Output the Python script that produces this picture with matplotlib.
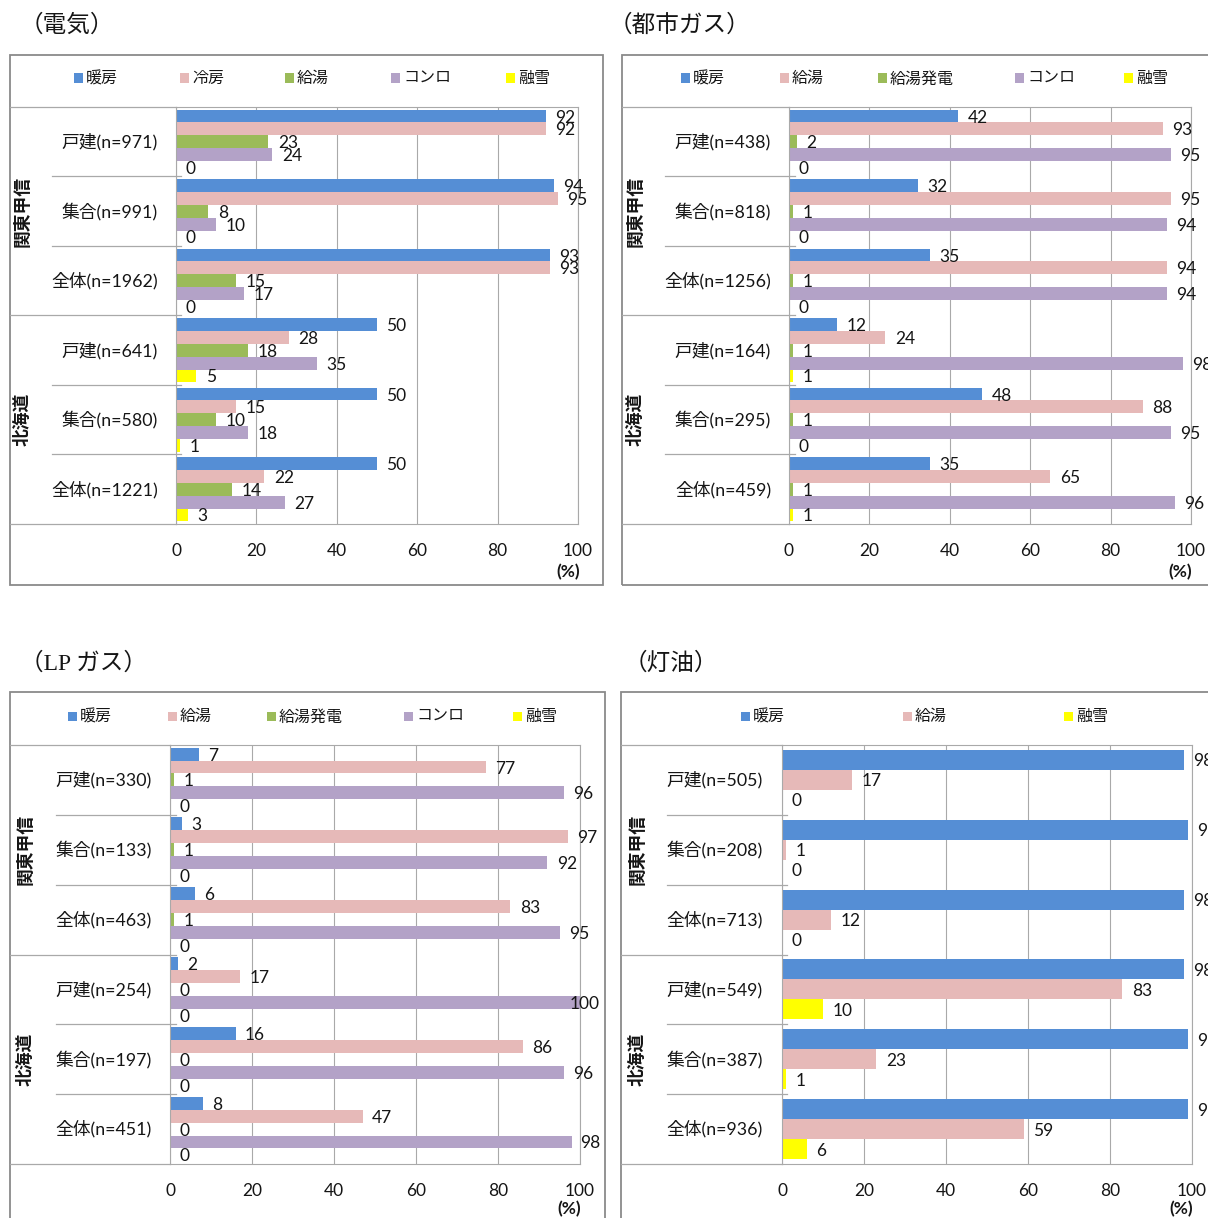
import matplotlib
matplotlib.use("Agg")
import matplotlib.pyplot as plt
import matplotlib.transforms as mtransforms
from matplotlib.patches import Rectangle
from matplotlib.lines import Line2D

plt.rcParams["font.family"] = ["Lato", "Noto Sans CJK JP"]

# ---------------- data ----------------
regions = ["関東甲信", "北海道"]

# electricity
elec_cats = ["戸建(n=971)", "集合(n=991)", "全体(n=1962)",
             "戸建(n=641)", "集合(n=580)", "全体(n=1221)"]
elec_series = ["暖房", "冷房", "給湯", "コンロ", "融雪"]
elec_heating = [92, 94, 93, 50, 50, 50]
elec_cooling = [92, 95, 93, 28, 15, 22]
elec_hotwater = [23, 8, 15, 18, 10, 14]
elec_stove = [24, 10, 17, 35, 18, 27]
elec_snow = [0, 0, 0, 5, 1, 3]

# city gas
gas_cats = ["戸建(n=438)", "集合(n=818)", "全体(n=1256)",
            "戸建(n=164)", "集合(n=295)", "全体(n=459)"]
gas_series = ["暖房", "給湯", "給湯発電", "コンロ", "融雪"]
gas_heating = [42, 32, 35, 12, 48, 35]
gas_hotwater = [93, 95, 94, 24, 88, 65]
gas_cogen = [2, 1, 1, 1, 1, 1]
gas_stove = [95, 94, 94, 98, 95, 96]
gas_snow = [0, 0, 0, 1, 0, 1]

# LP gas
lp_cats = ["戸建(n=330)", "集合(n=133)", "全体(n=463)",
           "戸建(n=254)", "集合(n=197)", "全体(n=451)"]
lp_series = ["暖房", "給湯", "給湯発電", "コンロ", "融雪"]
lp_heating = [7, 3, 6, 2, 16, 8]
lp_hotwater = [77, 97, 83, 17, 86, 47]
lp_cogen = [1, 1, 1, 0, 0, 0]
lp_stove = [96, 92, 95, 100, 96, 98]
lp_snow = [0, 0, 0, 0, 0, 0]

# kerosene
ker_cats = ["戸建(n=505)", "集合(n=208)", "全体(n=713)",
            "戸建(n=549)", "集合(n=387)", "全体(n=936)"]
ker_series = ["暖房", "給湯", "融雪"]
ker_heating = [98, 99, 98, 98, 99, 99]
ker_hotwater = [17, 1, 12, 83, 23, 59]
ker_snow = [0, 0, 0, 10, 1, 6]

x_ticks = [0, 20, 40, 60, 80, 100]

# ---------------- style ----------------
BLUE = "#558ED5"
PINK = "#E6B9B8"
GREEN = "#9BBB59"
PURPLE = "#B3A2C7"
YELLOW = "#FFFF00"
GRID = "#A9A9A9"
FRAME = "#8A8A8A"
TEXT = "#151515"

VAL_SIZE = 12.5

W, H = 1208, 1218
fig = plt.figure(figsize=(W / 100, H / 100), dpi=100)
fig.patch.set_facecolor("white")


def fx(px):
    return px / W


def fy(py):
    return 1 - py / H


panels = [
    dict(title="（電気）", cats=elec_cats, names=elec_series,
         values=[elec_heating, elec_cooling, elec_hotwater, elec_stove, elec_snow],
         colors=[BLUE, PINK, GREEN, PURPLE, YELLOW],
         border=(10, 55, 603, 585), plot=(176, 578, 107, 524),
         legend_y=78, legend_x=[78, 184, 289, 395, 510],
         cat_right=158, region_x=22, short_left=52, sep_right=181,
         pct=(568, 572), title_at=(20, 26), gap=0.41, limit=598),
    dict(title="（都市ガス）", cats=gas_cats, names=gas_series,
         values=[gas_heating, gas_hotwater, gas_cogen, gas_stove, gas_snow],
         colors=[BLUE, PINK, GREEN, PURPLE, YELLOW],
         border=(622, 55, 1240, 585), plot=(789, 1191, 107, 524),
         legend_y=78, legend_x=[685, 784, 882, 1019, 1128],
         cat_right=771, region_x=635, short_left=665, sep_right=795,
         pct=(1180, 572), title_at=(609, 26), gap=0.41, limit=None),
    dict(title="（LP ガス）", cats=lp_cats, names=lp_series,
         values=[lp_heating, lp_hotwater, lp_cogen, lp_stove, lp_snow],
         colors=[BLUE, PINK, GREEN, PURPLE, YELLOW],
         border=(10, 692, 605, 1250), plot=(170, 580, 745, 1164),
         legend_y=716, legend_x=[72, 172, 271, 408, 517],
         cat_right=152, region_x=25, short_left=56, sep_right=176,
         pct=(569, 1209), title_at=(20, 664), gap=0.41, limit=600),
    dict(title="（灯油）", cats=ker_cats, names=ker_series,
         values=[ker_heating, ker_hotwater, ker_snow],
         colors=[BLUE, PINK, YELLOW],
         border=(621, 692, 1240, 1250), plot=(782, 1192, 745, 1164),
         legend_y=716, legend_x=[745, 907, 1068],
         cat_right=763, region_x=637, short_left=667, sep_right=787,
         pct=(1181, 1209), title_at=(624, 664), gap=0.49, limit=None),
]

clamp = []

for p in panels:
    bl, bt, br, bb = p["border"]
    fig.add_artist(Rectangle((fx(bl), fy(bb)), fx(br) - fx(bl), fy(bt) - fy(bb),
                             transform=fig.transFigure, fill=False,
                             ec=FRAME, lw=1.3))
    fig.text(fx(p["title_at"][0]), fy(p["title_at"][1]), p["title"],
             ha="left", va="center", fontsize=17, color=TEXT,
             family=["Liberation Serif", "Noto Sans CJK JP"])

    # legend
    for name, col, cx in zip(p["names"], p["colors"], p["legend_x"]):
        fig.add_artist(Rectangle((fx(cx - 4.5), fy(p["legend_y"] + 4.5)), 9 / W, 9 / H,
                                 transform=fig.transFigure, fc=col, ec="none"))
        fig.text(fx(cx + 8), fy(p["legend_y"] + 1), name, ha="left", va="center",
                 fontsize=11.5, color=TEXT)

    x0, x1, top, bot = p["plot"]
    ax = fig.add_axes([fx(x0), fy(bot), fx(x1) - fx(x0), (bot - top) / H])
    ncat = len(p["cats"])
    n = len(p["names"])
    g = p["gap"]
    h = 1 / (n + g)
    for j, (vals, col) in enumerate(zip(p["values"], p["colors"])):
        ys = [i + (g / 2 + j + 0.5) * h for i in range(ncat)]
        ax.barh(ys, vals, height=h, color=col, lw=0, zorder=2)
        for y, v in zip(ys, vals):
            ann = ax.annotate(f"{v}", xy=(v, y), xytext=(9.5, 0),
                              textcoords="offset pixels", ha="left",
                              va="center_baseline", fontsize=VAL_SIZE, color=TEXT,
                              annotation_clip=False, zorder=4)
            if p["limit"] is not None:
                clamp.append((ann, p["limit"]))

    ax.set_xlim(0, 100)
    ax.set_ylim(ncat, 0)
    ax.set_xticks(x_ticks)
    ax.set_xticklabels([str(t) for t in x_ticks])
    ax.set_yticks([])
    ax.tick_params(axis="x", length=0, pad=13.5, labelsize=VAL_SIZE, labelcolor=TEXT)
    ax.xaxis.grid(True, color=GRID, lw=0.8)
    ax.set_axisbelow(True)
    for s in ax.spines.values():
        s.set_color(GRID)
        s.set_linewidth(0.8)

    trans = mtransforms.blended_transform_factory(fig.transFigure, ax.transData)

    # category labels and separators
    per_region = ncat // len(regions)
    for i, cat in enumerate(p["cats"]):
        fig.text(fx(p["cat_right"]), i + 0.5, cat, transform=trans,
                 ha="right", va="center", fontsize=12.8, color=TEXT)
    for i in range(1, ncat):
        left = bl if i % per_region == 0 else p["short_left"]
        fig.add_artist(Line2D([fx(left), fx(p["sep_right"])], [i, i],
                              transform=trans, color=GRID, lw=0.9))
    for yy in (0, ncat):
        fig.add_artist(Line2D([fx(bl), fx(x0)], [yy, yy],
                              transform=trans, color=GRID, lw=0.9))
    for k, reg in enumerate(regions):
        fig.text(fx(p["region_x"]), (k + 0.5) * per_region, reg, transform=trans,
                 rotation=90, ha="center", va="center", fontsize=12.8,
                 fontweight="bold", color=TEXT)

    fig.text(fx(p["pct"][0]), fy(p["pct"][1]), "(%)", ha="center", va="center",
             fontsize=VAL_SIZE, fontweight="bold", color=TEXT)

# keep value labels inside the chart frame
fig.canvas.draw()
renderer = fig.canvas.get_renderer()
for ann, limit in clamp:
    ext = ann.get_window_extent(renderer)
    if ext.x1 > limit:
        ann.xyann = (9.5 - (ext.x1 - limit), 0)

fig.savefig("out.png", dpi=100, facecolor="white")
